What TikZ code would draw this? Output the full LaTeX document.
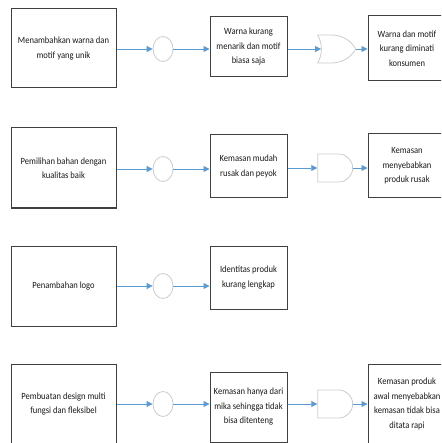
\documentclass[tikz,border=0pt]{standalone}
\usepackage{fontspec}
\setmainfont{Carlito}[FakeStretch=0.9]
\usetikzlibrary{positioning,calc,arrows.meta,shapes.geometric,shapes.gates.logic.US}
\definecolor{arrowblue}{HTML}{5B9BD5}

\begin{document}
\begin{tikzpicture}[x=1pt,y=-1pt,
    box/.style={draw=black!75,line width=1pt,fill=white,align=center,inner sep=2pt,
        font=\fontsize{9.5}{14.5}\selectfont,text=black!90},
    junc/.style={draw=black!20,line width=0.8pt,fill=white,inner sep=0pt,
        minimum width=20pt,minimum height=25pt},
    flow/.style={arrowblue,line width=0.9pt,-{Triangle[length=6pt,width=6pt]}}]
    \useasboundingbox (0,0) rectangle (441,443);
    \clip (0,0) rectangle (441,443);

    % row 1
    \node[box,minimum width=105pt,minimum height=79pt] (L1) at (63.5,48.5) {Menambahkan warna dan\\motif yang unik};
    \node[junc,ellipse] (C1) at (163,49) {};
    \node[box,minimum width=77pt,minimum height=60pt] (M1) at (248.5,47) {Warna kurang\\menarik dan motif\\biasa saja};
    \node[junc,or gate US,minimum width=19pt,minimum height=28pt] (G1) at (334,49) {};
    \node[box,minimum width=78pt,minimum height=65pt] (R1) at (407,48.5) {Warna dan motif\\kurang diminati\\konsumen};

    % row 2
    \node[box,minimum width=105pt,minimum height=80pt] (L2) at (63.5,168) {Pemilihan bahan dengan\\kualitas baik};
    \node[junc,ellipse] (C2) at (163,169) {};
    \node[box,minimum width=77pt,minimum height=63pt] (M2) at (248.5,166.5) {Kemasan mudah\\rusak dan peyok};
    \node[junc,and gate US,minimum width=19pt,minimum height=28pt] (G2) at (334,168) {};
    \node[box,minimum width=78pt,minimum height=64pt] (R2) at (407,166) {Kemasan\\menyebabkan\\produk rusak};

    % row 3
    \node[box,minimum width=105pt,minimum height=80pt] (L3) at (63.5,286) {Penambahan logo};
    \node[junc,ellipse] (C3) at (163,286) {};
    \node[box,minimum width=77pt,minimum height=63pt] (M3) at (248.5,277.5) {Identitas produk\\kurang lengkap};

    % row 4
    \node[box,minimum width=105pt,minimum height=80pt] (L4) at (63.5,404) {Pembuatan design multi\\fungsi dan fleksibel};
    \node[junc,ellipse] (C4) at (163,404) {};
    \node[box,minimum width=77pt,minimum height=70pt] (M4) at (248.5,407) {Kemasan hanya dari\\mika sehingga tidak\\bisa ditenteng};
    \node[junc,and gate US,minimum width=19pt,minimum height=28pt] (G4) at (334,404) {};
    \node[box,minimum width=78pt,minimum height=80pt] (R4) at (407,404) {Kemasan produk\\awal menyebabkan\\kemasan tidak bisa\\ditata rapi};

    \foreach \r in {1,2,3,4} {
        \draw[flow] (L\r.east |- C\r) -- (C\r.west);
        \draw[flow] (C\r.east) -- (M\r.west |- C\r);
    }
    \foreach \r in {1,2,4} {
        \draw[flow] (M\r.east |- G\r) -- (G\r.west);
        \draw[flow] (G\r.east) -- (R\r.west |- G\r);
    }
\end{tikzpicture}
\end{document}
